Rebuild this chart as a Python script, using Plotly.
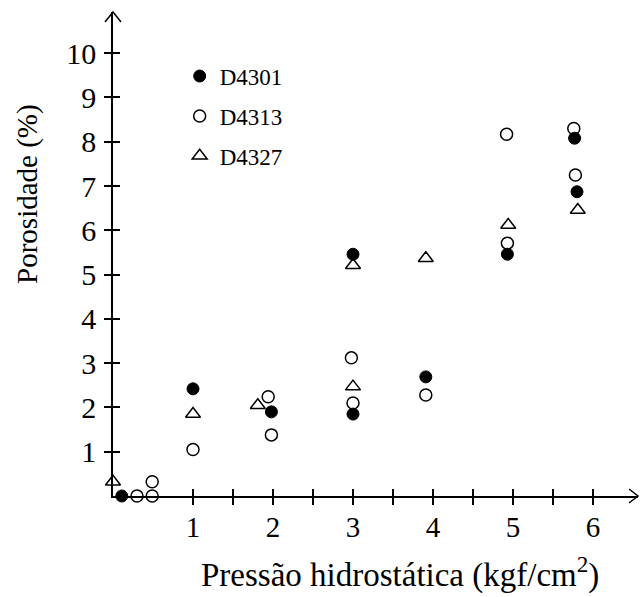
import plotly.graph_objects as go

# ---- data ----
d4301_x = [0.11, 1.00, 1.98, 3.00, 3.00, 3.91, 4.93, 5.77, 5.80]
d4301_y = [0.00, 2.42, 1.90, 5.46, 1.85, 2.69, 5.46, 8.08, 6.87]

d4313_x = [-0.03, 0.30, 0.49, 0.49, 1.00, 1.94, 1.98, 2.98, 3.00, 3.91, 4.92, 4.93, 5.76, 5.78]
d4313_y = [0.02, 0.00, 0.32, 0.00, 1.05, 2.24, 1.38, 3.12, 2.10, 2.28, 8.17, 5.71, 8.30, 7.25]

d4327_x = [0.00, 1.00, 1.81, 3.00, 3.00, 3.91, 4.94, 5.81]
d4327_y = [0.32, 1.85, 2.05, 2.47, 5.21, 5.37, 6.12, 6.46]

x_tickvals = [1, 2, 3, 4, 5, 6]
x_ticktext = ["1", "2", "3", "4", "5", "6"]
x_minor_vals = [1.5, 2.5, 3.5, 4.5, 5.5]
y_tickvals = [1, 2, 3, 4, 5, 6, 7, 8, 9, 10]
y_ticktext = ["1", "2", "3", "4", "5", "6", "7", "8", "9", "10"]

x_title = "Pressão hidrostática (kgf/cm<sup>2</sup>)"
y_title = "Porosidade (%)"

SERIF = "Liberation Serif, Times New Roman, serif"
W, H = 640, 597
L, R, T, B = 113, 2, 12, 101
X_MAX = 6.5625
Y_MAX = 10.93

fig = go.Figure()

fig.add_trace(go.Scatter(
    x=d4327_x, y=d4327_y, mode="markers", name="D4327", legendgroup="c", legendrank=3,
    marker=dict(symbol="triangle-up", size=13, color="white", line=dict(color="black", width=1.5)),
    cliponaxis=False))
fig.add_trace(go.Scatter(
    x=d4313_x, y=d4313_y, mode="markers", name="D4313", legendgroup="b", legendrank=2,
    marker=dict(symbol="circle", size=12, color="white", line=dict(color="black", width=1.5)),
    cliponaxis=False))
fig.add_trace(go.Scatter(
    x=d4301_x, y=d4301_y, mode="markers", name="D4301", legendgroup="a", legendrank=1,
    marker=dict(symbol="circle", size=12, color="black", line=dict(color="black", width=1)),
    cliponaxis=False))

# dummy trace so the overlaid axes (inner half of the crossing ticks) are drawn
fig.add_trace(go.Scatter(x=[None], y=[None], xaxis="x2", yaxis="y2",
                         showlegend=False, hoverinfo="skip"))

axis_common = dict(showgrid=False, zeroline=False, tickcolor="black", tickwidth=1.5, ticklen=7)
minor_out = dict(tickvals=x_minor_vals, ticks="outside", ticklen=7, tickwidth=1.5,
                 tickcolor="black", showgrid=False)
minor_in = dict(tickvals=x_minor_vals, ticks="inside", ticklen=7, tickwidth=1.5,
                tickcolor="black", showgrid=False)

fig.update_layout(
    width=W, height=H,
    margin=dict(l=L, r=R, t=T, b=B),
    paper_bgcolor="white", plot_bgcolor="white",
    font=dict(family=SERIF, color="black"),
    xaxis=dict(range=[0, X_MAX], tickvals=x_tickvals, ticktext=x_ticktext, ticks="outside",
               showline=True, linecolor="black", linewidth=1.5, minor=minor_out,
               ticklabelstandoff=-3,
               tickfont=dict(family=SERIF, size=29, color="black"), **axis_common),
    yaxis=dict(range=[0, Y_MAX], tickvals=y_tickvals, ticktext=y_ticktext, ticks="outside",
               showline=True, linecolor="black", linewidth=1.5, ticklabelstandoff=2,
               tickfont=dict(family=SERIF, size=30, color="black"), **axis_common),
    xaxis2=dict(range=[0, X_MAX], overlaying="x", anchor="y", tickvals=x_tickvals, ticks="inside",
                showticklabels=False, showline=False, minor=minor_in, **axis_common),
    yaxis2=dict(range=[0, Y_MAX], overlaying="y", anchor="x", tickvals=y_tickvals, ticks="inside",
                showticklabels=False, showline=False, **axis_common),
    showlegend=True,
    legend=dict(x=0.127, y=0.912, xanchor="left", yanchor="top", bgcolor="rgba(0,0,0,0)",
                font=dict(family=SERIF, size=23, color="black"), tracegroupgap=7),
    annotations=[
        dict(text=x_title, xref="paper", yref="paper", x=0.546, y=-0.159, showarrow=False,
             xanchor="center", yanchor="middle", font=dict(family=SERIF, size=33, color="black")),
        dict(text=y_title, xref="paper", yref="paper", x=-0.162, y=0.624, showarrow=False,
             textangle=-90, xanchor="center", yanchor="middle",
             font=dict(family=SERIF, size=29, color="black")),
    ],
    shapes=[
        dict(type="path", xref="paper", yref="paper",
             path=f"M {-8/525} {1-10/484} L 0 1 L {8/525} {1-10/484}",
             line=dict(color="black", width=1.5)),
        dict(type="path", xref="paper", yref="paper",
             path=f"M {1-9/525} {7/484} L 1 0 L {1-9/525} {-7/484}",
             line=dict(color="black", width=1.5)),
    ],
)

fig.write_html("out.html")
